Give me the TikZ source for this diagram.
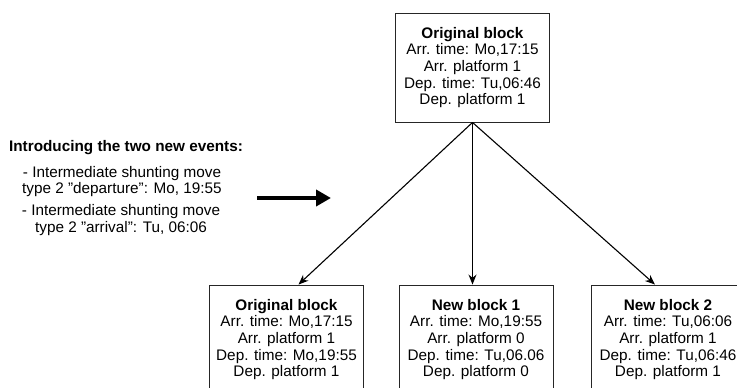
\documentclass[tikz,border=0pt]{standalone}
\usepackage{fontspec}
\setmainfont{Liberation Sans}
\usetikzlibrary{arrows.meta}

\tikzset{
  block/.style={draw=black!85, line width=0.9pt, align=center,
    minimum width=154pt, minimum height=109pt, inner sep=0pt,
    font=\fontsize{15.3}{16.6}\selectfont},
  note/.style={align=center, font=\fontsize{15.3}{16.8}\selectfont},
  split/.style={-{Stealth[length=10pt,width=8pt]}, line width=1.1pt}
}

\begin{document}
\begin{tikzpicture}[x=1pt,y=-1pt]
  \useasboundingbox (0,0) rectangle (737,388);
  % events on the left
  \node[note] (intro) at (126,148) {\textbf{Introducing the two new events:}};
  \node[note] (evdep) at (122,181.5) {- Intermediate shunting move\\type 2 "departure": Mo, 19:55};
  \node[note] (evarr) at (121,220) {- Intermediate shunting move\\type 2 "arrival": Tu, 06:06};
  \coordinate (go) at (257,198);
  \coordinate (to) at (331,198);
  \draw[line width=4pt, -{Triangle[length=15pt,width=16pt]}] (go) -- (to);
  % blocks
  \node[block] (orig) at (472.5,67.5) {\textbf{Original block}\\Arr. time: Mo,17:15\\Arr. platform 1\\Dep. time: Tu,06:46\\Dep. platform 1};
  \node[block] (first) at (286.5,339.5) {\textbf{Original block}\\Arr. time: Mo,17:15\\Arr. platform 1\\Dep. time: Mo,19:55\\Dep. platform 1};
  \node[block] (new1) at (476,339.5) {\textbf{New block 1}\\Arr. time: Mo,19:55\\Arr. platform 0\\Dep. time: Tu,06.06\\Dep. platform 0};
  \node[block] (new2) at (668,339.5) {\textbf{New block 2}\\Arr. time: Tu,06:06\\Arr. platform 1\\Dep. time: Tu,06:46\\Dep. platform 1};
  \draw[split] (orig.south) -- ([xshift=12pt]first.north);
  \draw[split] (orig.south) -- (orig.south |- new1.north);
  \draw[split] (orig.south) -- ([xshift=-13pt]new2.north);
\end{tikzpicture}
\end{document}
